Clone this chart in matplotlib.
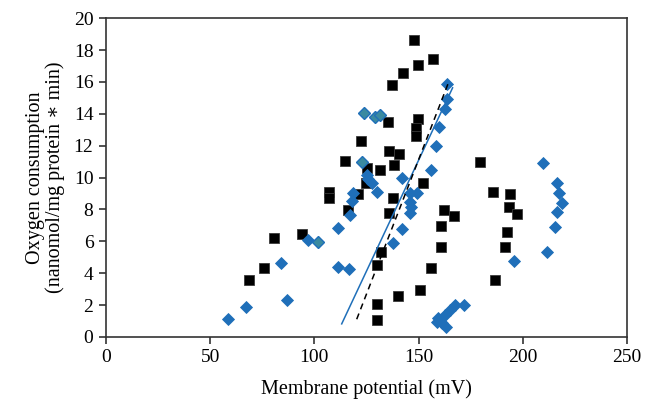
import numpy as np
import matplotlib
matplotlib.use("Agg")
import matplotlib.pyplot as plt

plt.rcParams['font.family'] = ['Liberation Serif', 'DejaVu Serif']

# black squares
sq_x = [147.8, 156.9, 149.7, 142.3, 137.2, 135.3, 149.6, 148.9, 148.9, 122.2,
        114.5, 135.6, 140.6, 125.4, 131.5, 138.2, 124.6, 121.1, 107.2, 107.2,
        116.1, 152.3, 137.5, 135.6, 80.5, 94.0, 75.8, 68.5, 131.9, 130.0,
        129.9, 129.9, 140.1, 150.5, 155.7, 162.2, 166.8, 160.9, 160.9, 179.4,
        185.5, 193.8, 193.5, 197.3, 192.2, 191.3, 186.5]
sq_y = [18.64, 17.47, 17.05, 16.57, 15.8, 13.5, 13.65, 13.1, 12.6, 12.27,
        11.05, 11.66, 11.45, 10.58, 10.47, 10.76, 9.63, 8.98, 9.07, 8.69,
        7.96, 9.67, 8.71, 7.8, 6.23, 6.44, 4.31, 3.55, 5.35, 4.49,
        2.05, 1.07, 2.59, 2.93, 4.33, 7.98, 7.57, 6.96, 5.62, 10.99,
        9.11, 8.98, 8.13, 7.71, 6.56, 5.64, 3.55]

# blue diamonds
dm_x = [58.6, 67.0, 87.0, 83.8, 97.0, 111.3, 111.3, 116.5, 117.1, 117.9,
        118.6, 125.0, 125.8, 127.4, 129.9, 142.2, 155.9, 158.2, 159.6, 162.8,
        163.8, 163.8, 142.2, 137.9, 145.9, 149.1, 145.9, 146.5, 145.9, 209.8,
        216.2, 217.4, 218.7, 216.2, 215.6, 211.7, 195.9, 171.9, 167.5, 165.0,
        162.7, 159.5, 161.0, 163.1, 158.7]
dm_y = [1.1, 1.9, 2.32, 4.66, 6.1, 6.84, 4.38, 4.27, 7.65, 8.5,
        9.0, 10.16, 9.89, 9.64, 9.11, 9.95, 10.47, 11.97, 13.19, 14.31,
        14.96, 15.85, 6.8, 5.87, 9.0, 9.06, 8.48, 8.17, 7.76, 10.93,
        9.63, 9.02, 8.42, 7.83, 6.89, 5.31, 4.74, 2.02, 2.0, 1.69,
        1.38, 1.17, 0.86, 0.65, 0.96]

# teal-filled diamonds
tl_x = [101.7, 122.7, 123.8, 129.3, 131.6]
tl_y = [5.98, 11.0, 14.06, 13.79, 13.92]

# trend lines
fit_blue_x = [113.1, 166.3]
fit_blue_y = [0.82, 15.63]
fit_black_x = [120.3, 164.6]
fit_black_y = [1.11, 16.05]

fig = plt.figure(figsize=(6.58, 4.04), dpi=100)
ax = fig.add_axes([0.161, 0.166, 0.792, 0.789])

blue = '#1f6fb9'
ax.plot(sq_x, sq_y, 's', color='black', markersize=6.5, markeredgecolor='#3a3a3a',
        markeredgewidth=0.6, zorder=3)
ax.plot(dm_x, dm_y, 'D', color=blue, markersize=6.5, markeredgecolor=blue,
        markeredgewidth=0.6, zorder=3)
ax.plot(tl_x, tl_y, 'D', color='#3a8aa0', markersize=6.5, markeredgecolor=blue,
        markeredgewidth=1.0, zorder=3)
ax.plot(fit_blue_x, fit_blue_y, '-', color=blue, linewidth=1.1, zorder=4)
ax.plot(fit_black_x, fit_black_y, '--', color='black', linewidth=1.1,
        dashes=(4, 3), zorder=4)

ax.set_xlim(0, 250)
ax.set_ylim(0, 20)
ax.set_xticks(np.arange(0, 251, 50))
ax.set_yticks(np.arange(0, 21, 2))
for s in ax.spines.values():
    s.set_color('#333333')
    s.set_linewidth(1.2)
ax.tick_params(axis='both', direction='out', length=5, width=1.2,
               color='#333333', labelsize=14, pad=4)

ax.set_xlabel('Membrane potential (mV)', fontsize=14.5, labelpad=9)
ax.set_ylabel('Oxygen consumption\n(nanomol/mg protein ∗ min)', fontsize=14.5,
              labelpad=6, linespacing=1.05)

fig.savefig('out.png', dpi=100)
